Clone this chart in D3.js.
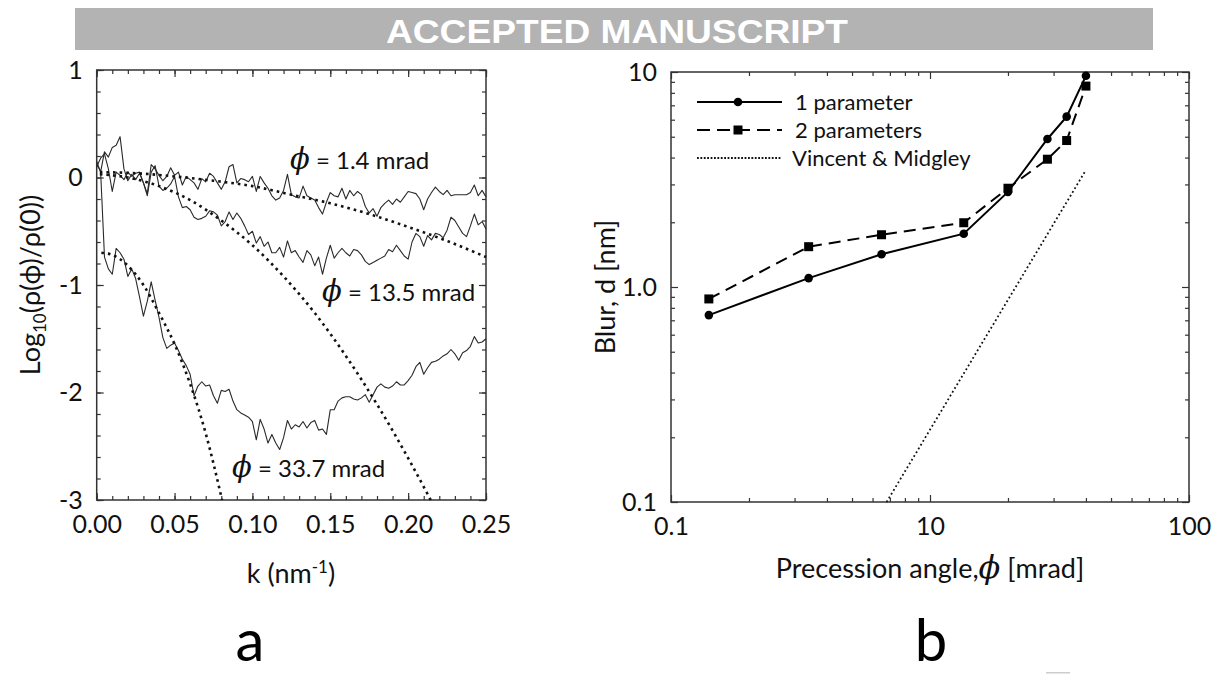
<!DOCTYPE html>
<html>
<head>
<meta charset="utf-8">
<script src="https://cdn.jsdelivr.net/npm/d3@7"></script>
<style>
  body { margin: 0; background: #fff; }
  svg { display: block; }
</style>
</head>
<body>
<svg id="chart" width="1212" height="675"></svg>
<script>
// ---- panel a: log10(rho(phi)/rho(0)) against k, sampled every 0.0025 nm^-1
const kStep = 0.0025;
const rho14 = [
  0.10, 0.18, 0.22, 0.08, -0.13, 0.05, 0.02, -0.02, 0.05, 0.01,
  0.04, 0.05, -0.05, -0.15, 0.12, 0.08, 0.02, -0.03, 0.01, 0.09,
  0.02, 0.05, -0.07, 0.01, -0.02, -0.05, -0.11, -0.01, -0.04, 0.04,
  0.01, -0.05, -0.11, -0.04, 0.10, 0.12, -0.05, -0.01, -0.02, -0.04,
  0.01, -0.13, 0.01, -0.05, -0.10, -0.17, -0.21, -0.19, -0.12, 0.03,
  -0.16, -0.18, -0.19, -0.08, -0.17, -0.19, -0.21, -0.28, -0.34, -0.23,
  -0.14, -0.17, -0.18, -0.10, -0.20, -0.12, -0.17, -0.13, -0.16, -0.27,
  -0.33, -0.29, -0.36, -0.28, -0.24, -0.21, -0.25, -0.20, -0.23, -0.18,
  -0.13, -0.14, -0.15, -0.20, -0.30, -0.20, -0.14, -0.09, -0.13, -0.16,
  -0.12, -0.17, -0.16, -0.16, -0.16, -0.16, -0.14, -0.07, -0.17, -0.12, -0.18
];
const rho135 = [
  0.15, 0.05, 0.24, 0.19, 0.28, 0.30, 0.38, 0.08, -0.03, 0.03,
  -0.02, 0.04, -0.05, -0.17, 0.05, 0.11, -0.08, -0.12, -0.10, -0.06,
  0.01, -0.18, -0.28, -0.27, -0.30, -0.37, -0.39, -0.38, -0.36, -0.31,
  -0.32, -0.35, -0.45, -0.41, -0.32, -0.39, -0.33, -0.38, -0.45, -0.53,
  -0.50, -0.61, -0.55, -0.64, -0.60, -0.70, -0.70, -0.65, -0.74, -0.59,
  -0.70, -0.68, -0.74, -0.79, -0.68, -0.72, -0.82, -0.74, -0.90, -0.75,
  -0.63, -0.75, -0.70, -0.66, -0.70, -0.73, -0.67, -0.68, -0.72, -0.78,
  -0.81, -0.79, -0.77, -0.75, -0.73, -0.67, -0.69, -0.63, -0.68, -0.73,
  -0.76, -0.60, -0.52, -0.55, -0.64, -0.54, -0.58, -0.52, -0.53, -0.56,
  -0.49, -0.37, -0.40, -0.46, -0.52, -0.55, -0.45, -0.34, -0.44, -0.41, -0.48
];
const rho337 = [
  0.12, 0.06, -0.74, -0.85, -0.90, -0.66, -0.70, -0.76, -0.92, -0.85,
  -0.94, -1.11, -1.29, -1.15, -0.97, -1.14, -1.30, -1.49, -1.59, -1.56,
  -1.54, -1.61, -1.69, -1.75, -1.83, -2.03, -1.94, -1.90, -1.94, -1.93,
  -2.03, -2.10, -1.98, -1.99, -1.97, -2.08, -2.16, -2.19, -2.21, -2.23,
  -2.27, -2.44, -2.25, -2.34, -2.47, -2.39, -2.47, -2.53, -2.42, -2.26,
  -2.34, -2.30, -2.32, -2.27, -2.33, -2.28, -2.26, -2.35, -2.34, -2.39,
  -2.16, -2.16, -2.08, -2.05, -2.04, -2.04, -2.06, -2.07, -2.05, -2.02,
  -2.09, -2.02, -1.95, -1.92, -1.95, -1.96, -1.94, -1.90, -1.93, -1.93,
  -1.89, -1.84, -1.76, -1.72, -1.83, -1.77, -1.72, -1.71, -1.69, -1.66,
  -1.64, -1.60, -1.64, -1.70, -1.63, -1.61, -1.57, -1.48, -1.54, -1.53, -1.50
];

// fitted curves (dotted)
const fit14K = [0.002, 0.025, 0.05, 0.075, 0.1, 0.125, 0.15, 0.175, 0.2, 0.225, 0.25];
const fit14V = [0.05, 0.04, 0.01, -0.03, -0.08, -0.16, -0.24, -0.34, -0.46, -0.59, -0.74];
const fit135K = [0.002, 0.02, 0.04, 0.06, 0.08, 0.10, 0.12, 0.14, 0.16, 0.18, 0.20, 0.2145];
const fit135V = [0.03, 0.0, -0.08, -0.21, -0.40, -0.63, -0.92, -1.26, -1.66, -2.11, -2.61, -3.0];
const fit337K = [0.003, 0.01, 0.02, 0.03, 0.04, 0.05, 0.06, 0.07, 0.0805];
const fit337V = [-0.70, -0.72, -0.82, -1.00, -1.26, -1.55, -1.92, -2.38, -3.0];

const kTicks = [0, 0.05, 0.10, 0.15, 0.20, 0.25];
const logTicks = [-3, -2, -1, 0, 1];

// ---- panel b: blur d against precession angle
const phi = [1.4, 3.4, 6.5, 13.5, 20, 28.4, 33.7, 40];
const blur1 = [0.74, 1.10, 1.42, 1.77, 2.77, 4.88, 6.2, 9.6];
const blur2 = [0.88, 1.54, 1.75, 1.99, 2.88, 3.93, 4.8, 8.6];
const vmPhi = [6.8, 40];
const vmBlur = [0.1, 3.5];

const phiTicks = [1, 10, 100];
const phiTickLabels = ['0.1', '10', '100'];
const blurTicks = [0.1, 1, 10];
const blurTickLabels = ['0.1', '1.0', '10'];
const phiMinor = [2, 3, 4, 5, 6, 7, 8, 9, 20, 30, 40, 50, 60, 70, 80, 90];
const blurMinor = [0.2, 0.3, 0.4, 0.5, 0.6, 0.7, 0.8, 0.9, 2, 3, 4, 5, 6, 7, 8, 9];

const legendItems = ['1 parameter', '2 parameters', 'Vincent & Midgley'];

// ---- setup
const svg = d3.select('#chart');
const font = 'Lato, "Open Sans", sans-serif';
const phiFont = '"DejaVu Serif", "Liberation Serif", serif';
const ink = '#111';
const frameColor = '#333';
const tickFont = 25;
const titleFont = 27;

// header band
svg.append('rect')
  .attr('x', 75).attr('y', 8).attr('width', 1078).attr('height', 42)
  .attr('fill', '#b3b3b3');
svg.append('text')
  .attr('x', 617).attr('y', 43)
  .attr('text-anchor', 'middle')
  .attr('font-family', '"Liberation Sans Narrow", "Liberation Sans", Arial, sans-serif')
  .attr('font-weight', 'bold')
  .attr('font-size', 34)
  .attr('textLength', 462)
  .attr('lengthAdjust', 'spacingAndGlyphs')
  .attr('fill', '#fff')
  .text('ACCEPTED MANUSCRIPT');

// axis helper: inward ticks, no domain line
function addAxis(gen, tx, ty, values, size, labels, pad) {
  const g = svg.append('g')
    .attr('transform', `translate(${tx},${ty})`)
    .call(gen.tickValues(values).tickSize(-size).tickPadding(pad || 0)
      .tickFormat(labels ? (d, i) => labels[i] : ''));
  g.select('.domain').remove();
  g.attr('font-family', font).attr('font-size', tickFont);
  g.selectAll('line').attr('stroke', frameColor).attr('stroke-width', 1.2);
  g.selectAll('text').attr('fill', ink);
  return g;
}

// ---- panel a
const xa = d3.scaleLinear([0, 0.25], [96.7, 486]);
const ya = d3.scaleLinear([-3, 1], [500, 70]);
const kMinor = d3.range(0, 0.2501, 0.01);
const logMinor = d3.range(-3, 1.001, 0.2);

addAxis(d3.axisBottom(xa), 0, 500, kMinor, 4);
addAxis(d3.axisBottom(xa), 0, 500, kTicks, 7, kTicks.map(d => d3.format('.2f')(d)), 15);
addAxis(d3.axisTop(xa), 0, 70, kMinor, 4);
addAxis(d3.axisTop(xa), 0, 70, kTicks, 7);
addAxis(d3.axisLeft(ya), 96.7, 0, logMinor, 4);
addAxis(d3.axisLeft(ya), 96.7, 0, logTicks, 7, logTicks.map(String), 14);
addAxis(d3.axisRight(ya), 486, 0, logMinor, 4);
addAxis(d3.axisRight(ya), 486, 0, logTicks, 7);

svg.append('rect')
  .attr('x', xa(0)).attr('y', ya(1))
  .attr('width', xa(0.25) - xa(0)).attr('height', ya(-3) - ya(1))
  .attr('fill', 'none').attr('stroke', frameColor).attr('stroke-width', 1.5);

const kGrid = rho14.map((v, i) => i * kStep);
const noisyLine = d3.line().x((d, i) => xa(kGrid[i])).y(d => ya(d));
const plotA = svg.append('g');
[rho14, rho135, rho337].forEach(series => {
  plotA.append('path')
    .attr('d', noisyLine(series))
    .attr('fill', 'none')
    .attr('stroke', '#2a2a2a')
    .attr('stroke-width', 1.1)
    .attr('stroke-linejoin', 'round');
});

const fitLine = d3.line().x(d => xa(d[0])).y(d => ya(d[1])).curve(d3.curveMonotoneX);
[[fit14K, fit14V], [fit135K, fit135V], [fit337K, fit337V]].forEach(([ks, vs]) => {
  plotA.append('path')
    .attr('d', fitLine(ks.map((k, i) => [k, vs[i]])))
    .attr('fill', 'none')
    .attr('stroke', '#111')
    .attr('stroke-width', 2.6)
    .attr('stroke-dasharray', '2.6 4');
});

// phi annotations
function phiLabel(x, y, rest, size) {
  const t = svg.append('text').attr('x', x).attr('y', y).attr('fill', ink);
  t.append('tspan')
    .attr('font-family', phiFont)
    .attr('font-style', 'italic')
    .attr('font-size', size + 5)
    .text('ϕ');
  t.append('tspan')
    .attr('font-family', font)
    .attr('font-size', size)
    .text(rest);
  return t;
}
phiLabel(290, 169, ' = 1.4 mrad', 24);
phiLabel(322, 301, ' = 13.5 mrad', 24);
phiLabel(232, 477, ' = 33.7 mrad', 24);

// axis titles panel a
const xTitleA = svg.append('text')
  .attr('x', 291).attr('y', 583)
  .attr('text-anchor', 'middle')
  .attr('font-family', font).attr('font-size', titleFont).attr('fill', ink);
xTitleA.append('tspan').text('k (nm');
xTitleA.append('tspan').attr('font-size', 17).attr('dy', -10).text('-1');
xTitleA.append('tspan').attr('dy', 10).text(')');

const yTitleA = svg.append('text')
  .attr('transform', 'translate(40,285) rotate(-90)')
  .attr('text-anchor', 'middle')
  .attr('font-family', font).attr('font-size', titleFont).attr('fill', ink);
yTitleA.append('tspan').text('Log');
yTitleA.append('tspan').attr('font-size', 17).attr('dy', 6).text('10');
yTitleA.append('tspan').attr('dy', -6).text('(ρ(ϕ)/ρ(0))');

// ---- panel b
const xb = d3.scaleLog([1, 100], [671, 1189]);
const yb = d3.scaleLog([0.1, 10], [502, 72]);

addAxis(d3.axisBottom(xb), 0, 502, phiMinor, 4);
addAxis(d3.axisBottom(xb), 0, 502, phiTicks, 7, phiTickLabels, 15);
addAxis(d3.axisTop(xb), 0, 72, phiMinor, 4);
addAxis(d3.axisTop(xb), 0, 72, phiTicks, 7);
addAxis(d3.axisLeft(yb), 671, 0, blurMinor, 4);
addAxis(d3.axisLeft(yb), 671, 0, blurTicks, 7, blurTickLabels, 14);
addAxis(d3.axisRight(yb), 1189, 0, blurMinor, 4);
addAxis(d3.axisRight(yb), 1189, 0, blurTicks, 7);

svg.append('rect')
  .attr('x', xb(1)).attr('y', yb(10))
  .attr('width', xb(100) - xb(1)).attr('height', yb(0.1) - yb(10))
  .attr('fill', 'none').attr('stroke', frameColor).attr('stroke-width', 1.5);

const plotB = svg.append('g');
const blurLine = d3.line().x(d => xb(d[0])).y(d => yb(d[1]));

plotB.append('path')
  .attr('d', blurLine(vmPhi.map((p, i) => [p, vmBlur[i]])))
  .attr('fill', 'none').attr('stroke', '#111')
  .attr('stroke-width', 1.8).attr('stroke-dasharray', '1.8 2.6');

plotB.append('path')
  .attr('d', blurLine(phi.map((p, i) => [p, blur2[i]])))
  .attr('fill', 'none').attr('stroke', '#000')
  .attr('stroke-width', 2).attr('stroke-dasharray', '12 7');

plotB.append('path')
  .attr('d', blurLine(phi.map((p, i) => [p, blur1[i]])))
  .attr('fill', 'none').attr('stroke', '#000').attr('stroke-width', 2);

plotB.selectAll('rect.sq')
  .data(phi)
  .join('rect')
  .attr('class', 'sq')
  .attr('x', d => xb(d) - 4.5)
  .attr('y', (d, i) => yb(blur2[i]) - 4.5)
  .attr('width', 9).attr('height', 9)
  .attr('fill', '#000');

plotB.selectAll('circle')
  .data(phi)
  .join('circle')
  .attr('cx', d => xb(d))
  .attr('cy', (d, i) => yb(blur1[i]))
  .attr('r', 4.3)
  .attr('fill', '#000');

// legend
const legend = svg.append('g').attr('font-family', font).attr('font-size', 22).attr('fill', ink);
const legendRows = [102, 130, 158];
legend.append('line').attr('x1', 697).attr('x2', 782).attr('y1', legendRows[0]).attr('y2', legendRows[0])
  .attr('stroke', '#000').attr('stroke-width', 2);
legend.append('circle').attr('cx', 738).attr('cy', legendRows[0]).attr('r', 4.3).attr('fill', '#000');
legend.append('line').attr('x1', 697).attr('x2', 782).attr('y1', legendRows[1]).attr('y2', legendRows[1])
  .attr('stroke', '#000').attr('stroke-width', 2).attr('stroke-dasharray', '13 7');
legend.append('rect').attr('x', 733.5).attr('y', legendRows[1] - 4.5).attr('width', 9).attr('height', 9).attr('fill', '#000');
legend.append('line').attr('x1', 697).attr('x2', 782).attr('y1', legendRows[2]).attr('y2', legendRows[2])
  .attr('stroke', '#111').attr('stroke-width', 1.8).attr('stroke-dasharray', '1.8 1.6');
legend.selectAll('text')
  .data(legendItems)
  .join('text')
  .attr('x', (d, i) => i === 2 ? 792 : 795)
  .attr('y', (d, i) => legendRows[i] + 8)
  .text(d => d);

// axis titles panel b
const xTitleB = svg.append('text')
  .attr('x', 930).attr('y', 578)
  .attr('text-anchor', 'middle')
  .attr('font-family', font).attr('font-size', titleFont).attr('fill', ink);
xTitleB.append('tspan').text('Precession angle,');
xTitleB.append('tspan')
  .attr('font-family', phiFont)
  .attr('font-style', 'italic').attr('font-size', 32).text('ϕ');
xTitleB.append('tspan').text(' [mrad]');

svg.append('text')
  .attr('transform', 'translate(615,287) rotate(-90)')
  .attr('text-anchor', 'middle')
  .attr('font-family', font).attr('font-size', titleFont).attr('fill', ink)
  .text('Blur, d [nm]');

// panel letters
svg.append('text').attr('x', 250).attr('y', 661).attr('text-anchor', 'middle')
  .attr('font-family', font).attr('font-size', 58).attr('fill', '#000').text('a');
svg.append('text').attr('x', 931).attr('y', 661).attr('text-anchor', 'middle')
  .attr('font-family', font).attr('font-size', 58).attr('fill', '#000').text('b');

// small grey mark at the bottom edge
svg.append('rect').attr('x', 1046).attr('y', 672).attr('width', 24).attr('height', 1.5).attr('fill', '#ccc');
</script>
</body>
</html>
